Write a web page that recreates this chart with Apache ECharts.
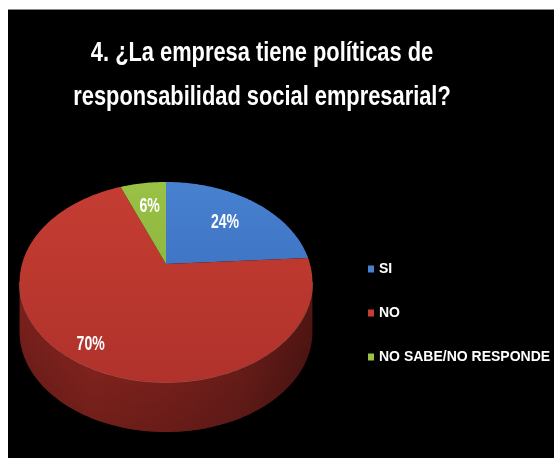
<!DOCTYPE html>
<html>
<head>
<meta charset="utf-8">
<script src="https://cdn.jsdelivr.net/npm/echarts@6/dist/echarts.min.js"></script>
<style>
  html, body { margin: 0; padding: 0; background: #fff; }
  #chart { width: 554px; height: 458px; }
</style>
</head>
<body>
<div id="chart"></div>
<script>
// Survey answers (percent of respondents)
const CATEGORIES = ['SI', 'NO', 'NO SABE/NO RESPONDE'];
const VALUES = [24, 70, 6];
const TITLE_LINES = ['4. ¿La empresa tiene políticas de', 'responsabilidad social empresarial?'];

const FONT = '"Liberation Sans", Arial, sans-serif';
const TOP_COLORS = [['#4781d0', '#3466b4'], ['#c53d33', '#b0322b'], ['#99c145', '#84a937']];
const SIDE_STOPS = [
  ['#2d5594', '#1d3a6a'],
  ['#7e211d', '#942822', '#8c2520', '#78211d', '#541613'],
  ['#708f2c', '#4b621c']
];
const LABEL_R = [0.65, 0.85, 0.68];

// Tilted disc: centre, radii, perspective factor and rim depth
const CX = 166, CY = 264, RX = 144, RY = 96.8, P = 0.18, DEPTH = 50;
const FRONT_START = Math.acos(-P) * 180 / Math.PI;
const FRONT_END = 360 - FRONT_START;

function project(deg, r, dy) {
  const a = deg * Math.PI / 180;
  const u = r * Math.sin(a), v = -r * Math.cos(a);
  const s = 1 / (1 - P * v);
  return [CX + RX * u * s, CY + RY * v * s + dy];
}
function arc(a0, a1, dy) {
  const pts = [];
  const n = Math.max(2, Math.ceil(Math.abs(a1 - a0)));
  for (let i = 0; i <= n; i++) pts.push(project(a0 + (a1 - a0) * i / n, 1, dy));
  return pts;
}

const total = VALUES.reduce((s, v) => s + v, 0);
const starts = [];
VALUES.reduce((acc, v) => { starts.push(acc); return acc + v; }, 0);

function stopsOf(colors) {
  return colors.map((c, i) => ({ offset: i / (colors.length - 1), color: c }));
}

function makeRenderItem(idx) {
  return function (params, api) {
    const value = api.value(0);
    const a0 = starts[idx] / total * 360;
    const a1 = a0 + value / total * 360;
    const children = [];

    // visible part of the rim
    const s0 = Math.max(a0, FRONT_START), s1 = Math.min(a1, FRONT_END);
    if (s1 > s0) {
      const rimTop = arc(s0, s1, 0);
      const pts = rimTop.concat(arc(s1, s0, DEPTH));
      children.push({
        type: 'polygon', shape: { points: pts },
        style: { fill: new echarts.graphic.LinearGradient(0, 0, 1, 0, stopsOf(SIDE_STOPS[idx])) }
      });
      children.push({
        type: 'polygon', shape: { points: pts }, silent: true,
        style: { fill: new echarts.graphic.LinearGradient(0, 0, 0, 1, [
          { offset: 0, color: 'rgba(0,0,0,0)' },
          { offset: 1, color: 'rgba(0,0,0,0.25)' }
        ]) }
      });
      children.push({
        type: 'polyline', shape: { points: rimTop }, silent: true,
        style: { stroke: 'rgba(255,130,120,0.45)', lineWidth: 1.5, fill: null }
      });
    }

    // top face
    const face = [project(0, 0, 0)].concat(arc(a0, a1, 0));
    children.push({
      type: 'polygon', shape: { points: face },
      style: { fill: new echarts.graphic.LinearGradient(0, CY - RY / (1 + P), 0, CY + RY / (1 - P), [
        { offset: 0, color: TOP_COLORS[idx][0] },
        { offset: 1, color: TOP_COLORS[idx][1] }
      ], true) }
    });

    // percentage label, condensed horizontally
    const lp = project((a0 + a1) / 2, LABEL_R[idx], 0);
    children.push({
      type: 'text', z2: 10,
      x: lp[0], y: lp[1], scaleX: 0.67,
      style: {
        text: Math.round(value / total * 100) + '%',
        x: 0, y: 0, fill: '#fff',
        font: 'bold 21px ' + FONT, align: 'center', verticalAlign: 'middle'
      }
    });
    return { type: 'group', children: children };
  };
}

const chart = echarts.init(document.getElementById('chart'), null, { renderer: 'canvas' });
chart.setOption({
  backgroundColor: '#fff',
  animation: false,
  graphic: [
    { type: 'rect', shape: { x: 8, y: 9, width: 546, height: 449 }, style: { fill: '#000' } },
    { type: 'line', shape: { x1: 8, y1: 9.5, x2: 554, y2: 9.5 }, style: { stroke: '#888', lineWidth: 1 } },
    {
      type: 'text',
      x: 262, y: 31, scaleX: 0.78,
      style: {
        text: TITLE_LINES.join('\n'), x: 0, y: 0,
        fill: '#fff', font: 'bold 28px ' + FONT,
        align: 'center', verticalAlign: 'top', lineHeight: 44
      }
    }
  ],
  legend: {
    data: CATEGORIES,
    orient: 'vertical',
    left: 368, top: 259,
    padding: 0,
    itemWidth: 6, itemHeight: 7, itemGap: 24,
    icon: 'rect',
    selectedMode: false,
    textStyle: { color: '#fff', fontFamily: FONT, fontWeight: 'bold', fontSize: 14, lineHeight: 20 }
  },
  series: CATEGORIES.map((name, i) => ({
    type: 'custom',
    name: name,
    coordinateSystem: 'none',
    itemStyle: { color: TOP_COLORS[i][0] },
    data: [[VALUES[i]]],
    renderItem: makeRenderItem(i)
  }))
});
</script>
</body>
</html>
